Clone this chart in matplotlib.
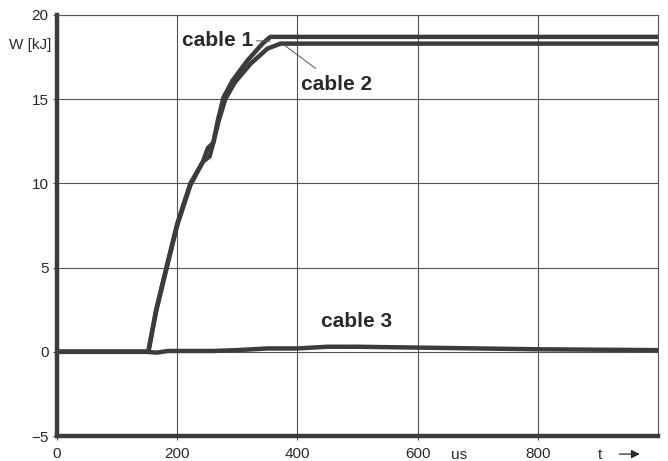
import matplotlib
matplotlib.use('Agg')
import matplotlib.pyplot as plt
from matplotlib import rcParams

rcParams['font.family'] = ['Liberation Sans', 'DejaVu Sans']

# data (t in us, W in kJ)
t_cable1 = [0, 152, 165, 182, 200, 222, 243, 251, 260, 268, 277, 292, 317, 342, 355, 1000]
w_cable1 = [0, 0, 2.5, 5.0, 7.6, 10.0, 11.3, 12.1, 12.4, 13.8, 15.1, 16.1, 17.3, 18.3, 18.7, 18.7]

t_cable2 = [0, 152, 165, 182, 200, 222, 243, 254, 260, 269, 280, 296, 322, 350, 372, 1000]
w_cable2 = [0, 0, 2.4, 4.9, 7.5, 9.9, 11.3, 11.6, 12.4, 13.7, 15.0, 16.0, 17.1, 18.0, 18.3, 18.3]

t_cable3 = [0, 150, 165, 185, 260, 300, 350, 400, 450, 500, 600, 800, 1000]
w_cable3 = [0, 0, -0.05, 0.05, 0.05, 0.1, 0.2, 0.2, 0.3, 0.3, 0.25, 0.15, 0.1]

x_ticks = [0, 200, 400, 600, 800]
y_ticks = [-5, 0, 5, 10, 15, 20]

line_col = '#3c3c3c'
grid_col = '#555555'
text_col = '#2a2a2a'

fig = plt.figure(figsize=(6.68, 4.61), dpi=100)
ax = fig.add_axes([0.0853, 0.0542, 0.8997, 0.9133])

ax.set_xlim(0, 1000)
ax.set_ylim(-5, 20)
ax.set_xticks(x_ticks)
ax.set_yticks(y_ticks)
ax.tick_params(axis='both', labelsize=11, length=3, width=0.8, color=grid_col,
               labelcolor=text_col, pad=3)
ax.tick_params(axis='x', pad=5)

# grid in the background
ax.grid(True, color=grid_col, linewidth=0.8, zorder=0)

# spines: heavy left and bottom, light top and right
for side in ['left', 'bottom']:
    ax.spines[side].set_linewidth(3.2)
    ax.spines[side].set_color(line_col)
for side in ['top', 'right']:
    ax.spines[side].set_linewidth(0.8)
    ax.spines[side].set_color(grid_col)

ax.plot(t_cable3, w_cable3, color=line_col, linewidth=3.2, zorder=3)
ax.plot(t_cable2, w_cable2, color=line_col, linewidth=3.2, zorder=3, solid_joinstyle='round')
ax.plot(t_cable1, w_cable1, color=line_col, linewidth=3.2, zorder=3, solid_joinstyle='round')

lab_font = dict(fontsize=15, fontweight='bold', color=text_col)
ax.annotate('cable 1', xy=(355, 18.45), xytext=(268, 18.5), ha='center', va='center',
            arrowprops=dict(arrowstyle='-', color=grid_col, linewidth=0.7, shrinkA=0, shrinkB=0),
            **lab_font)
ax.annotate('cable 2', xy=(375, 18.3), xytext=(465, 15.9), ha='center', va='center',
            arrowprops=dict(arrowstyle='-', color=grid_col, linewidth=0.7, shrinkA=4, shrinkB=0),
            **lab_font)
ax.annotate('cable 3', xy=(490, 0.35), xytext=(498, 1.8), ha='center', va='center',
            arrowprops=dict(arrowstyle='-', color=grid_col, linewidth=0.7, shrinkA=8, shrinkB=0),
            **lab_font)

fig.text(0.045, 0.902, 'W [kJ]', fontsize=11, ha='center', va='center', color=text_col)
fig.text(0.687, 0.013, 'us', fontsize=11, ha='center', va='center', color=text_col)
fig.text(0.898, 0.013, 't', fontsize=11, ha='center', va='center', color=text_col)
fig.patches.append(matplotlib.patches.FancyArrowPatch(
    (0.923, 0.015), (0.962, 0.015), transform=fig.transFigure,
    arrowstyle='-|>,head_length=5,head_width=2.5', color=text_col, linewidth=0.9))

fig.savefig('out.png', dpi=100)
